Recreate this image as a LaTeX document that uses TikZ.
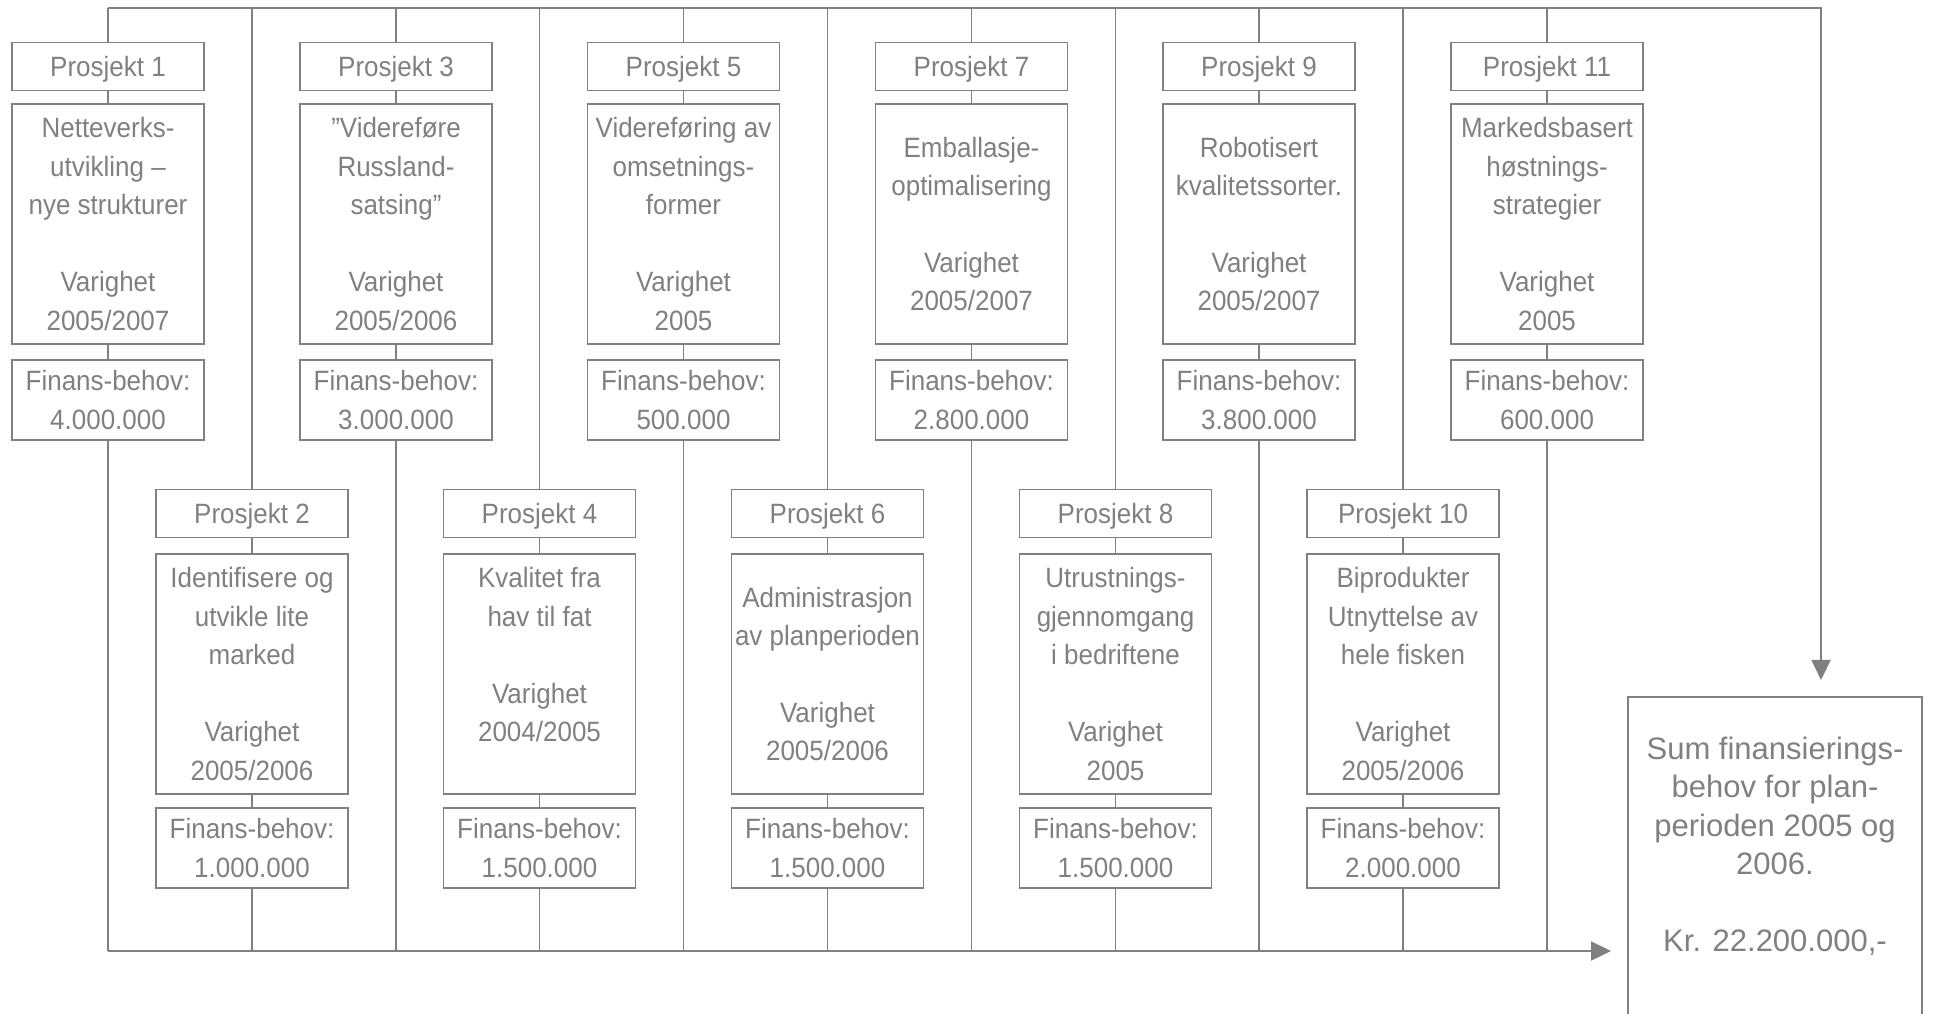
\documentclass[tikz,border=0pt]{standalone}
\usepackage{fontspec}
\setmainfont{Liberation Sans}
\newfontfamily\narrowsans{Liberation Sans}[FakeStretch=0.93]
\usepackage{tikz}
\usetikzlibrary{positioning}
\usetikzlibrary{arrows.meta}
\definecolor{boxgray}{HTML}{808080}
\tikzset{
  head/.style={rectangle, draw=boxgray, line width=1.1pt, text=boxgray, minimum width=3.84cm, minimum height=0.96cm, inner sep=0pt, text depth=0pt, font=\narrowsans\fontsize{15.9}{21.9}\selectfont},
  desc/.style={head, text depth=, minimum height=4.8cm, align=center},
  cost/.style={head, text depth=, minimum height=1.6cm, align=center},
  sumbox/.style={rectangle, draw=boxgray, line width=1.1pt, text=boxgray, minimum width=5.88cm, inner xsep=0pt, inner ysep=0.8cm, text depth=5cm, align=center, font=\fontsize{17.65}{21.9}\selectfont},
  wire/.style={draw=boxgray, line width=1.1pt},
  arr/.style={wire, -{Triangle[length=0.4cm,width=0.38cm]}, shorten >=0.32cm},
}

\begin{document}
\begin{tikzpicture}
   \useasboundingbox (0,0) rectangle (38.66,20.26);
   \coordinate (tl) at (2.16,20.1);
   \coordinate (tr) at (36.42,20.1);
   \coordinate (bl) at (2.16,1.24);
   % upper row
   \draw (2.16,18.93) node[head] (h1) {Prosjekt 1};
   \draw (2.16,15.78) node[desc] (d1) {Netteverks-\\utvikling –\\nye strukturer\\[.77cm]Varighet\\2005/2007};
   \draw (2.16,12.26) node[cost] (f1) {Finans-behov:\\4.000.000};
   \draw (7.92,18.93) node[head] (h3) {Prosjekt 3};
   \draw (7.92,15.78) node[desc] (d3) {”Videreføre\\Russland-\\satsing”\\[.77cm]Varighet\\2005/2006};
   \draw (7.92,12.26) node[cost] (f3) {Finans-behov:\\3.000.000};
   \draw (13.67,18.93) node[head] (h5) {Prosjekt 5};
   \draw (13.67,15.78) node[desc] (d5) {Videreføring av\\omsetnings-\\former\\[.77cm]Varighet\\2005};
   \draw (13.67,12.26) node[cost] (f5) {Finans-behov:\\500.000};
   \draw (19.43,18.93) node[head] (h7) {Prosjekt 7};
   \draw (19.43,15.78) node[desc] (d7) {Emballasje-\\optimalisering\\[.77cm]Varighet\\2005/2007};
   \draw (19.43,12.26) node[cost] (f7) {Finans-behov:\\2.800.000};
   \draw (25.18,18.93) node[head] (h9) {Prosjekt 9};
   \draw (25.18,15.78) node[desc] (d9) {Robotisert\\kvalitetssorter.\\[.77cm]Varighet\\2005/2007};
   \draw (25.18,12.26) node[cost] (f9) {Finans-behov:\\3.800.000};
   \draw (30.94,18.93) node[head] (h11) {Prosjekt 11};
   \draw (30.94,15.78) node[desc] (d11) {Markedsbasert\\høstnings-\\strategier\\[.77cm]Varighet\\2005};
   \draw (30.94,12.26) node[cost] (f11) {Finans-behov:\\600.000};
   % lower row
   \draw (5.04,9.99) node[head] (h2) {Prosjekt 2};
   \draw (5.04,6.78) node[desc] (d2) {Identifisere og\\utvikle lite\\marked\\[.77cm]Varighet\\2005/2006};
   \draw (5.04,3.30) node[cost] (f2) {Finans-behov:\\1.000.000};
   \draw (10.79,9.99) node[head] (h4) {Prosjekt 4};
   \draw (10.79,6.78) node[desc] (d4) {Kvalitet fra\\hav til fat\\[.77cm]Varighet\\2004/2005\\\mbox{}};
   \draw (10.79,3.30) node[cost] (f4) {Finans-behov:\\1.500.000};
   \draw (16.55,9.99) node[head] (h6) {Prosjekt 6};
   \draw (16.55,6.78) node[desc] (d6) {Administrasjon\\av planperioden\\[.77cm]Varighet\\2005/2006};
   \draw (16.55,3.30) node[cost] (f6) {Finans-behov:\\1.500.000};
   \draw (22.31,9.99) node[head] (h8) {Prosjekt 8};
   \draw (22.31,6.78) node[desc] (d8) {Utrustnings-\\gjennomgang\\i bedriftene\\[.77cm]Varighet\\2005};
   \draw (22.31,3.30) node[cost] (f8) {Finans-behov:\\1.500.000};
   \draw (28.06,9.99) node[head] (h10) {Prosjekt 10};
   \draw (28.06,6.78) node[desc] (d10) {Biprodukter\\Utnyttelse av\\hele fisken\\[.77cm]Varighet\\2005/2006};
   \draw (28.06,3.30) node[cost] (f10) {Finans-behov:\\2.000.000};
   % total
   \draw (35.5,6.34) node[sumbox, anchor=north] (sum) {Sum finansierings-\\behov for plan-\\perioden 2005 og\\2006.\\[.77cm]Kr. 22.200.000,-};
   % connectors
   \draw[wire] (tl -| h1) -- (h1) (h1) -- (d1) (d1) -- (f1) (f1) -- (bl -| f1);
   \draw[wire] (tl -| h2) -- (h2) (h2) -- (d2) (d2) -- (f2) (f2) -- (bl -| f2);
   \draw[wire] (tl -| h3) -- (h3) (h3) -- (d3) (d3) -- (f3) (f3) -- (bl -| f3);
   \draw[wire] (tl -| h4) -- (h4) (h4) -- (d4) (d4) -- (f4) (f4) -- (bl -| f4);
   \draw[wire] (tl -| h5) -- (h5) (h5) -- (d5) (d5) -- (f5) (f5) -- (bl -| f5);
   \draw[wire] (tl -| h6) -- (h6) (h6) -- (d6) (d6) -- (f6) (f6) -- (bl -| f6);
   \draw[wire] (tl -| h7) -- (h7) (h7) -- (d7) (d7) -- (f7) (f7) -- (bl -| f7);
   \draw[wire] (tl -| h8) -- (h8) (h8) -- (d8) (d8) -- (f8) (f8) -- (bl -| f8);
   \draw[wire] (tl -| h9) -- (h9) (h9) -- (d9) (d9) -- (f9) (f9) -- (bl -| f9);
   \draw[wire] (tl -| h10) -- (h10) (h10) -- (d10) (d10) -- (f10) (f10) -- (bl -| f10);
   \draw[wire] (tl -| h11) -- (h11) (h11) -- (d11) (d11) -- (f11) (f11) -- (bl -| f11);
   \draw[arr] (tl) -- (tr) -- (sum.north -| tr);
   \draw[arr] (bl) -- (sum.west |- bl);
\end{tikzpicture}
\end{document}
